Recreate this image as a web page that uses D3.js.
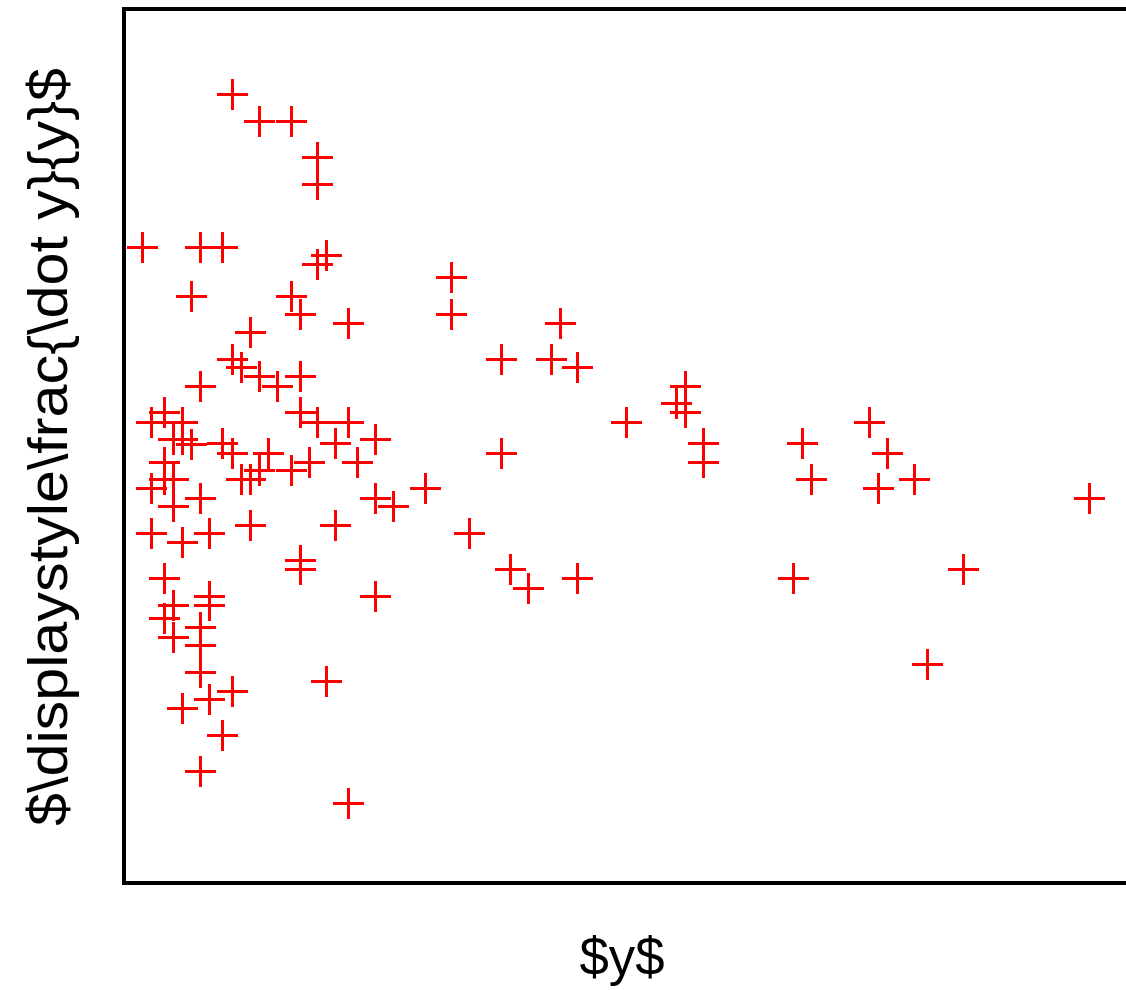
<!DOCTYPE html>
<html>
<head>
<meta charset="utf-8">
<script src="https://cdn.jsdelivr.net/npm/d3@7"></script>
<style>
  html, body { margin: 0; padding: 0; background: #fff; }
  svg { display: block; }
  .frame { fill: none; stroke: #000; stroke-width: 4; shape-rendering: crispEdges; }
  .mark { stroke: #ff0000; stroke-width: 3; fill: none; shape-rendering: crispEdges; }
  .label { font-family: "Liberation Sans", Arial, sans-serif; fill: #000; }
</style>
</head>
<body>
<script>
var xValues = [1.08,1.34,1.66,1.92,1.92,0.18,0.76,0.98,2.01,1.92,
  0.67,1.66,1.75,2.23,1.25,1.08,1.17,1.34,1.52,1.75,
  0.76,0.40,0.27,0.58,0.49,0.58,0.67,0.98,1.08,0.40,
  0.40,0.49,0.27,0.49,0.76,1.43,1.84,1.66,1.34,1.17,
  1.25,2.10,2.23,1.75,1.92,2.50,2.32,2.50,2.68,1.25,
  2.10,0.27,0.58,0.85,1.75,1.75,0.40,2.50,0.85,0.85,
  0.49,0.40,0.49,0.76,0.76,0.76,1.08,0.85,0.58,2.01,
  0.98,0.76,2.23,3.26,3.26,4.34,3.75,4.25,4.51,5.59,
  5.50,5.59,5.00,5.77,5.77,3.75,3.00,3.44,3.84,4.02,
  4.51,7.42,6.75,7.60,6.84,7.51,7.87,9.61,6.66,8.36,
  8.00];

var yValues = [9.03,8.72,8.72,8.31,8.00,7.28,7.28,7.28,7.18,7.08,
  6.72,6.72,6.51,6.41,6.31,6.00,5.90,5.80,5.69,5.80,
  5.69,5.39,5.28,5.28,5.08,5.08,5.02,5.03,4.92,4.82,
  4.62,4.62,4.52,4.31,4.41,4.92,4.82,4.72,4.72,4.62,
  4.62,5.03,5.28,5.39,5.28,5.08,4.82,4.41,4.31,4.10,
  4.10,4.00,3.90,4.00,3.69,3.59,3.49,3.28,3.28,3.18,
  3.18,3.03,2.82,2.93,2.72,2.41,2.20,2.10,2.00,2.31,
  1.69,1.28,0.92,6.93,6.51,6.41,6.00,6.00,5.90,5.69,
  5.49,5.39,5.28,5.03,4.82,4.92,4.52,4.00,3.59,3.38,
  3.49,5.28,5.03,4.92,4.62,4.52,4.62,4.41,3.49,3.59,
  2.51];

var xDomain = [0, 10],
    yDomain = [0, 10];

var xLabel = "$y$",
    yLabel = "$\\displaystyle\\frac{\\dot y}{y}$";

var width = 1126,
    height = 990;

var plot = {left: 124, right: 1128, top: 9, bottom: 883};
var markSize = 15.5;

var svg = d3.select("body").append("svg")
    .attr("width", width)
    .attr("height", height);

var x = d3.scaleLinear()
    .domain(xDomain)
    .range([plot.left, plot.right]);

var y = d3.scaleLinear()
    .domain(yDomain)
    .range([plot.bottom, plot.top]);

var points = d3.zip(xValues, yValues);

svg.append("g")
    .attr("class", "g-marks")
  .selectAll("path")
    .data(points)
  .enter().append("path")
    .attr("class", "mark")
    .attr("d", function(d) {
      var cx = Math.round(x(d[0])) + 0.5,
          cy = Math.round(y(d[1])) + 0.5;
      return "M" + (cx - markSize) + "," + cy + "H" + (cx + markSize) +
             "M" + cx + "," + (cy - markSize) + "V" + (cy + markSize);
    });

svg.append("rect")
    .attr("class", "frame")
    .attr("x", plot.left)
    .attr("y", plot.top)
    .attr("width", plot.right - plot.left)
    .attr("height", plot.bottom - plot.top);

svg.append("text")
    .attr("class", "label")
    .attr("x", 622)
    .attr("y", 975)
    .attr("text-anchor", "middle")
    .attr("font-size", 54)
    .attr("textLength", 85)
    .attr("lengthAdjust", "spacingAndGlyphs")
    .text(xLabel);

svg.append("text")
    .attr("class", "label")
    .attr("transform", "translate(67,447) rotate(-90)")
    .attr("text-anchor", "middle")
    .attr("font-size", 55)
    .attr("textLength", 758)
    .attr("lengthAdjust", "spacingAndGlyphs")
    .text(yLabel);
</script>
</body>
</html>
